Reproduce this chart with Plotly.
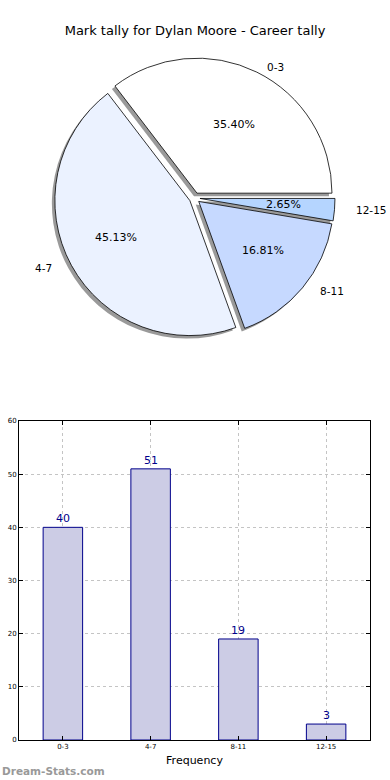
import math
import plotly.graph_objects as go

# ---- data ----
categories = ["0-3", "4-7", "8-11", "12-15"]
counts = [40, 51, 19, 3]
pie_colors = ["#FFFFFF", "#EBF2FF", "#C6D9FF", "#B5D5FF"]
y_ticks = [0, 10, 20, 30, 40, 50, 60]
title = "Mark tally for Dylan Moore - Career tally"

W, H = 390, 780
total = sum(counts)

# pie geometry (pixels)
cx, cy = 194.6, 198.0
R = 135.0
pull = 0.04
half = R * (1 + pull)

def px(x):
    return x / W

def py(y):
    return 1 - y / H

dom_x = [px(cx - half), px(cx + half)]
dom_y = [py(cy + half), py(cy - half)]
sh = 3.0
shadow_x = [dom_x[0] - sh / W, dom_x[1] - sh / W]
shadow_y = [dom_y[0] - sh / H, dom_y[1] - sh / H]

# first slice starts at 3 o'clock and runs counterclockwise
rot = 90 - 360.0 * counts[0] / total

fig = go.Figure()

fig.add_trace(go.Pie(
    labels=categories, values=counts, sort=False, direction="counterclockwise",
    rotation=rot, pull=[pull] * len(counts), textinfo="none", hoverinfo="skip",
    marker=dict(colors=["rgba(120,120,120,0.75)"] * len(counts), line=dict(width=0)),
    domain=dict(x=shadow_x, y=shadow_y), showlegend=False,
))
fig.add_trace(go.Pie(
    labels=categories, values=counts, sort=False, direction="counterclockwise",
    rotation=rot, pull=[pull] * len(counts), textinfo="none",
    marker=dict(colors=pie_colors, line=dict(color="black", width=0.8)),
    domain=dict(x=dom_x, y=dom_y), showlegend=False,
))

rx, ry = 141.0, 128.0
d = 5.0
cum = 0.0
for cat, v in zip(categories, counts):
    mid = (cum + v / 2) / total * 2 * math.pi
    cum += v
    c, s = math.cos(mid), math.sin(mid)
    tx = cx + c * (0.6 * rx + d)
    ty = cy - s * (0.6 * ry + d)
    fig.add_annotation(x=px(tx), y=py(ty), xref="paper", yref="paper",
                       xanchor="center", yanchor="middle",
                       text=f"{v / total * 100:.2f}%", showarrow=False,
                       font=dict(family="DejaVu Sans", size=11, color="black"))
    lx = cx + c * (1.1 * rx + d)
    ly = cy - s * (1.1 * ry + d)
    xanchor = "left" if c > 0.05 else ("right" if c < -0.05 else "center")
    fig.add_annotation(x=px(lx), y=py(ly), xref="paper", yref="paper",
                       text=cat, showarrow=False, xanchor=xanchor, yanchor="middle",
                       font=dict(family="DejaVu Sans", size=10.5, color="black"))

fig.add_trace(go.Bar(
    x=categories, y=counts, width=0.45,
    marker=dict(color="#CCCCE5", line=dict(color="#00008B", width=1)),
    showlegend=False, xaxis="x", yaxis="y", hoverinfo="x+y",
))
for cat, v in zip(categories, counts):
    fig.add_annotation(x=cat, y=v, xref="x", yref="y", text=str(v), showarrow=False,
                       yanchor="bottom", yshift=0,
                       font=dict(family="DejaVu Sans", size=11, color="#00008B"))

fig.update_layout(
    width=W, height=H,
    margin=dict(l=0, r=0, t=0, b=0, autoexpand=False),
    paper_bgcolor="white", plot_bgcolor="white",
    font=dict(family="DejaVu Sans", color="black"),
    title=dict(text=title, x=0.5, xanchor="center", y=1 - 30 / H, yanchor="middle",
               font=dict(family="DejaVu Sans", size=13, color="black")),
    xaxis=dict(domain=[px(19), px(370)], range=[-0.5, 3.5], type="category",
               showline=True, linecolor="black", linewidth=1, mirror="ticks",
               ticks="inside", ticklen=4, tickcolor="black", automargin=False,
               showgrid=True, gridcolor="#c4c4c4", griddash="dot", gridwidth=1,
               tickfont=dict(size=7, family="DejaVu Sans"),
               title=dict(text="Frequency", font=dict(size=11, family="DejaVu Sans"), standoff=5),
               zeroline=False, anchor="y"),
    yaxis=dict(domain=[py(740), py(421)], range=[0, 60], tickvals=y_ticks,
               showline=True, linecolor="black", linewidth=1, mirror="ticks",
               ticks="inside", ticklen=4, tickcolor="black", automargin=False,
               showgrid=True, gridcolor="#c4c4c4", griddash="dot", gridwidth=1,
               tickfont=dict(size=7, family="DejaVu Sans"),
               zeroline=False, anchor="x"),
)

fig.add_annotation(x=0, y=py(771), xref="paper", yref="paper", text="<b>Dream-Stats.com</b>",
                   showarrow=False, xanchor="left", yanchor="middle",
                   font=dict(family="DejaVu Sans", size=10.5, color="#999999"))

fig.write_html("out.html", config={"displayModeBar": False},
               post_script="document.body.style.margin='0px';")
